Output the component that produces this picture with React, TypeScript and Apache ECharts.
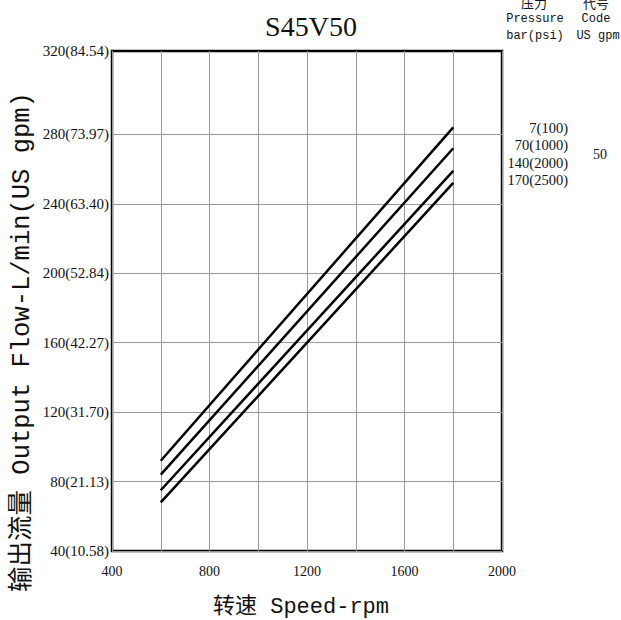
import React, { useEffect, useRef } from "react";
import * as echarts from "echarts";

const speedRpm = [600, 1800];
const flow7bar = [92, 284];
const flow70bar = [84, 272];
const flow140bar = [75, 259];
const flow170bar = [68, 252];

const yTickValues = [40, 80, 120, 160, 200, 240, 280, 328];
const yTickLabels = [
  "40(10.58)",
  "80(21.13)",
  "120(31.70)",
  "160(42.27)",
  "200(52.84)",
  "240(63.40)",
  "280(73.97)",
  "320(84.54)",
];
const xLabelValues = [400, 800, 1200, 1600, 2000];

const pressureLabels = ["7(100)", "70(1000)", "140(2000)", "170(2500)"];
const codeLabel = "50";

const LATIN = "'Liberation Serif', 'Noto Sans CJK SC', serif";
const MONO = "'Liberation Mono', 'Noto Sans CJK SC', monospace";

export default function App() {
  const ref = useRef<HTMLDivElement>(null);
  useEffect(() => {
    if (!ref.current) return;
    const chart = echarts.init(ref.current, null, { renderer: "svg" });
    const seriesData = [flow7bar, flow70bar, flow140bar, flow170bar];
    const texts: any[] = [];
    pressureLabels.forEach((t, i) => {
      texts.push({
        type: "text",
        x: 568,
        y: 128 + i * 17.3,
        style: {
          text: t,
          fill: "#111",
          font: `14.5px ${LATIN}`,
          textAlign: "right",
          textVerticalAlign: "middle",
        },
      });
    });
    const option: any = {
      animation: false,
      backgroundColor: "#fff",
      title: {
        text: "S45V50",
        left: 306,
        top: 7,
        textAlign: "center",
        textStyle: {
          fontFamily: LATIN,
          fontSize: 28,
          fontWeight: "normal",
          color: "#111",
        },
      },
      grid: {
        left: 112,
        top: 51,
        width: 390,
        height: 500,
        show: true,
        borderColor: "#000",
        borderWidth: 2.5,
        containLabel: false,
      },
      xAxis: {
        type: "value",
        min: 400,
        max: 2000,
        interval: 200,
        axisLine: { show: false },
        axisTick: { show: false },
        splitLine: { show: true, lineStyle: { color: "#9a9a9a", width: 1 } },
        axisLabel: {
          margin: 13,
          color: "#111",
          fontFamily: LATIN,
          fontSize: 14,
          formatter: (v: number) => (xLabelValues.includes(v) ? String(v) : ""),
        },
      },
      yAxis: {
        type: "value",
        min: 40,
        max: 328,
        interval: 40,
        axisLine: { show: false },
        axisTick: { show: false, customValues: yTickValues.slice(0, 7) },
        splitLine: { show: true, lineStyle: { color: "#9a9a9a", width: 1 } },
        axisLabel: {
          margin: 3,
          color: "#111",
          fontFamily: LATIN,
          fontSize: 15,
          customValues: yTickValues,
          formatter: (v: number) => {
            const i = yTickValues.indexOf(v);
            return i >= 0 ? yTickLabels[i] : "";
          },
        },
      },
      series: seriesData.map((d, i) => ({
        type: "line",
        name: pressureLabels[i],
        data: speedRpm.map((x, j) => [x, d[j]]),
        symbol: "none",
        lineStyle: { color: "#000", width: 2.5 },
      })),
      graphic: [
        {
          type: "text",
          x: 22,
          y: 342,
          rotation: Math.PI / 2,
          style: {
            text: "输出流量 Output Flow-L/min(US gpm)",
            fill: "#111",
            font: `25.5px ${MONO}`,
            textAlign: "center",
            textVerticalAlign: "middle",
          },
        },
        {
          type: "text",
          x: 301,
          y: 607,
          style: {
            text: "转速 Speed-rpm",
            fill: "#111",
            font: `22px ${MONO}`,
            textAlign: "center",
            textVerticalAlign: "middle",
          },
        },
        {
          type: "text",
          x: 534,
          y: 3,
          style: { text: "压力", fill: "#111", font: `13px ${LATIN}`, textAlign: "center", textVerticalAlign: "middle" },
        },
        {
          type: "text",
          x: 596,
          y: 3,
          style: { text: "代号", fill: "#111", font: `13px ${LATIN}`, textAlign: "center", textVerticalAlign: "middle" },
        },
        {
          type: "text",
          x: 535,
          y: 19,
          style: { text: "Pressure", fill: "#111", font: `12px ${MONO}`, textAlign: "center", textVerticalAlign: "middle" },
        },
        {
          type: "text",
          x: 596,
          y: 19,
          style: { text: "Code", fill: "#111", font: `12px ${MONO}`, textAlign: "center", textVerticalAlign: "middle" },
        },
        {
          type: "text",
          x: 535,
          y: 36,
          style: { text: "bar(psi)", fill: "#111", font: `12px ${MONO}`, textAlign: "center", textVerticalAlign: "middle" },
        },
        {
          type: "text",
          x: 598,
          y: 36,
          style: { text: "US gpm", fill: "#111", font: `12px ${MONO}`, textAlign: "center", textVerticalAlign: "middle" },
        },
        ...texts,
        {
          type: "text",
          x: 600,
          y: 154,
          style: { text: codeLabel, fill: "#111", font: `14px ${LATIN}`, textAlign: "center", textVerticalAlign: "middle" },
        },
      ],
    };
    chart.setOption(option);
    return () => chart.dispose();
  }, []);
  return (
    <div
      ref={ref}
      style={{ position: "absolute", left: 0, top: 0, width: 621, height: 620 }}
    />
  );
}
